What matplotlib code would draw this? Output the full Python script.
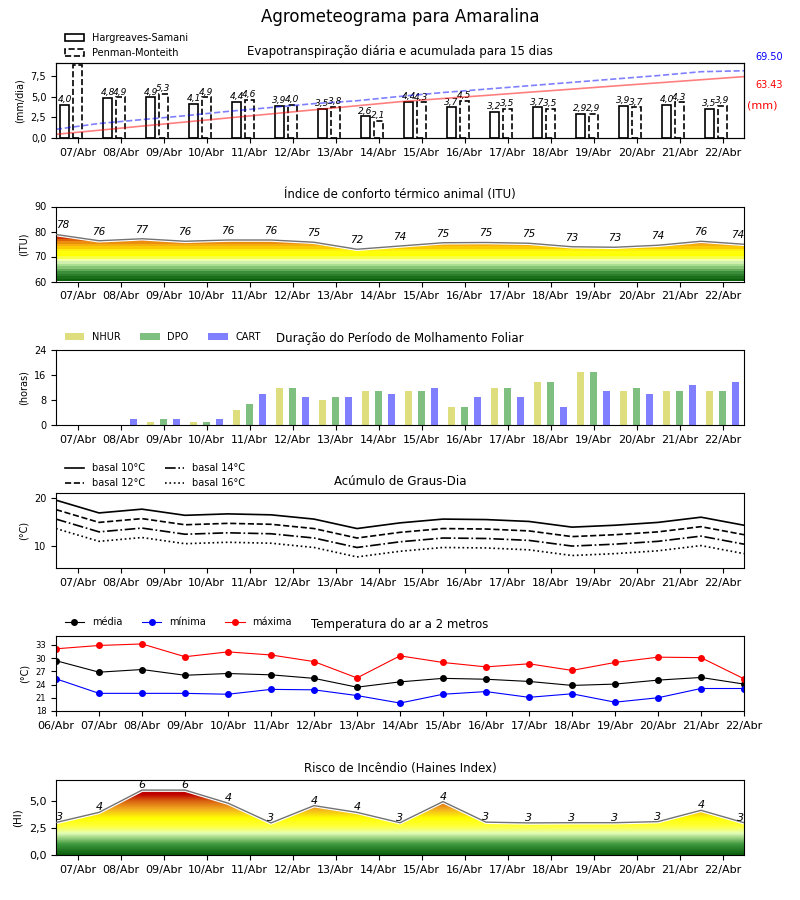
import matplotlib
matplotlib.use('Agg')
import matplotlib.pyplot as plt
import numpy as np
from matplotlib.colors import LinearSegmentedColormap
from matplotlib.ticker import FuncFormatter

dias = ['07/Abr', '08/Abr', '09/Abr', '10/Abr', '11/Abr', '12/Abr', '13/Abr', '14/Abr',
        '15/Abr', '16/Abr', '17/Abr', '18/Abr', '19/Abr', '20/Abr', '21/Abr', '22/Abr']
dias_temp = ['06/Abr'] + dias

# evapotranspiracao diaria (mm/dia) e acumulada (mm)
et_hs = [4.0, 4.8, 4.9, 4.1, 4.4, 3.9, 3.5, 2.6, 4.4, 3.7, 3.2, 3.7, 2.9, 3.9, 4.0, 3.5]
et_pm = [8.8, 4.9, 5.3, 4.9, 4.6, 4.0, 3.8, 2.1, 4.3, 4.5, 3.5, 3.5, 2.9, 3.7, 4.3, 3.9]
acum_hs = [3.8, 8.0, 12.3, 16.5, 20.7, 24.9, 29.1, 33.3, 37.5, 40.8, 44.0, 47.3, 50.5, 53.8, 57.0, 60.2, 63.43]
acum_pm = [9.0, 15.0, 19.0, 23.0, 27.5, 31.5, 35.5, 38.5, 43.0, 47.0, 50.5, 54.0, 57.5, 61.0, 64.5, 68.5, 69.5]

# indice de conforto termico (ITU)
itu = [78.8, 76.3, 77.1, 76.1, 76.6, 76.6, 75.7, 72.9, 74.2, 75.5, 75.6, 75.3, 73.9, 73.7, 74.5, 76.1, 74.9]
itu_rot = [78, 76, 77, 76, 76, 76, 75, 72, 74, 75, 75, 75, 73, 73, 74, 76, 74]

# molhamento foliar (horas)
nhur = [0, 0, 1, 1, 5, 12, 8, 11, 11, 6, 12, 14, 17, 11, 11, 11]
dpo = [0, 0, 2, 1, 7, 12, 9, 11, 11, 6, 12, 14, 17, 12, 11, 11]
cart = [0, 2, 2, 2, 10, 9, 9, 10, 12, 9, 9, 6, 11, 10, 13, 14]

# graus-dia (°C)
gd10 = [19.6, 16.9, 17.7, 16.4, 16.7, 16.5, 15.6, 13.6, 14.8, 15.6, 15.5, 15.1, 13.9, 14.3, 14.9, 16.0, 14.3]
gd12 = [17.6, 14.9, 15.7, 14.4, 14.7, 14.5, 13.6, 11.6, 12.8, 13.6, 13.5, 13.1, 11.9, 12.3, 12.9, 14.0, 12.3]
gd14 = [15.6, 12.9, 13.7, 12.4, 12.7, 12.5, 11.6, 9.6, 10.8, 11.6, 11.5, 11.1, 9.9, 10.3, 10.9, 12.0, 10.3]
gd16 = [13.6, 10.9, 11.7, 10.4, 10.7, 10.5, 9.6, 7.6, 8.8, 9.6, 9.5, 9.1, 7.9, 8.3, 8.9, 10.0, 8.3]

# temperatura do ar (°C)
tmed = [29.4, 26.8, 27.4, 26.1, 26.5, 26.2, 25.4, 23.4, 24.6, 25.4, 25.2, 24.7, 23.8, 24.1, 25.0, 25.6, 24.1]
tmin = [25.3, 22.0, 22.0, 22.0, 21.8, 22.9, 22.8, 21.5, 19.8, 21.8, 22.4, 21.1, 21.9, 20.0, 21.0, 23.1, 23.1]
tmax = [32.1, 32.85, 33.2, 30.3, 31.4, 30.7, 29.2, 25.5, 30.5, 29.0, 28.0, 28.7, 27.2, 29.0, 30.2, 30.1, 25.3]

# risco de incendio (Haines)
haines = [3.02, 3.95, 6.0, 6.0, 4.8, 2.98, 4.57, 3.95, 3.0, 4.94, 3.05, 2.98, 3.0, 3.0, 3.1, 4.14, 3.0]
haines_rot = [3, 4, 6, 6, 4, 3, 4, 4, 3, 4, 3, 3, 3, 3, 3, 4, 3]

xb = np.arange(len(dias))               # centro de cada dia
xl = np.arange(len(dias_temp)) - 0.5    # limites entre dias
virg = FuncFormatter(lambda v, p: f'{v:.1f}'.replace('.', ','))


def eixo(top):
    # cria um painel na posicao (em pixels a partir do topo)
    ax = fig.add_axes([56/800, 1 - (top + 75)/900, 688/800, 75/900])
    ax.set_xlim(-0.5, len(dias) - 0.5)
    ax.set_xticks(xb)
    ax.set_xticklabels(dias, fontsize=8)
    ax.tick_params(axis='y', labelsize=7)
    return ax


def gradiente(ax, x, y, y0, y1, stops, n, interp):
    # preenche a area sob a curva com um degrade vertical
    cmap = LinearSegmentedColormap.from_list('g', [((v - y0)/(y1 - y0), c) for v, c in stops])
    niveis = np.linspace(0, 1, n).reshape(-1, 1)
    im = ax.imshow(niveis, cmap=cmap, origin='lower', aspect='auto', interpolation=interp,
                   extent=[x[0], x[-1], y0, y1], zorder=1)
    poly = ax.fill_between(x, y, y0, facecolor='none', edgecolor='none')
    im.set_clip_path(poly.get_paths()[0], transform=ax.transData)
    ax.plot(x, y, color='white', lw=2.6, zorder=2)
    ax.plot(x, y, color='0.45', lw=1.0, zorder=3)


fig = plt.figure(figsize=(8, 9), dpi=100)
fig.text(0.5, 1 - 17/900, 'Agrometeograma para Amaralina', ha='center', va='center', fontsize=12)

# ---- 1: evapotranspiracao ----
ax1 = eixo(63)
ax1.bar(xb - 0.3, et_hs, 0.2, facecolor='white', edgecolor='black', lw=1.2, label='Hargreaves-Samani')
ax1.bar(xb, et_pm, 0.2, facecolor='white', edgecolor='black', lw=1.2, ls='--', label='Penman-Monteith')
ymax1 = max(et_pm) * 1.03
for i in range(len(dias)):
    for xx, v in ((xb[i] - 0.3, et_hs[i]), (xb[i], et_pm[i])):
        if v < ymax1 * 0.9:
            ax1.text(xx, v + 0.1, f'{v:.1f}'.replace('.', ','), ha='center', va='bottom',
                     fontsize=6.5, style='italic')
ax1.set_ylim(0, ymax1)
ax1.set_yticks([0, 2.5, 5, 7.5])
ax1.yaxis.set_major_formatter(virg)
ax1.set_ylabel('(mm/dia)', fontsize=7)
ax1.set_title('Evapotranspiração diária e acumulada para 15 dias', fontsize=8.5)
ax1.legend(loc='lower left', bbox_to_anchor=(0, 0.95), frameon=False, fontsize=7)
tw = ax1.twinx()
tw.plot(xl, acum_hs, color='red', alpha=0.5, lw=1.2)
tw.plot(xl, acum_pm, color='blue', alpha=0.5, lw=1.2, ls='--')
tw.set_ylim(0, 77.5)
tw.set_yticks([])
ax1.text(1.016, 1.08, f'{acum_pm[-1]:.2f}', color='blue', fontsize=7, transform=ax1.transAxes, va='center')
ax1.text(1.016, 0.707, f'{acum_hs[-1]:.2f}', color='red', fontsize=7, transform=ax1.transAxes, va='center')
ax1.text(1.004, 0.44, '(mm)', color='red', fontsize=8, transform=ax1.transAxes, va='center')

# ---- 2: ITU ----
ax2 = eixo(206.5)
itu_cores = [(60, '#0c600c'), (63, '#3a8d3a'), (66, '#a6dc8e'), (68, '#f0ffc4'), (70, '#ffff00'),
             (72, '#ffff10'), (73, '#ffd400'), (75, '#f2a414'), (76.5, '#e06808'), (78, '#cc2200'),
             (80, '#c00000'), (90, '#c00000')]
gradiente(ax2, xl, itu, 60, 90, itu_cores, 30, 'nearest')
for i, r in enumerate(itu_rot):
    ha = 'left' if i == 0 else ('right' if i == len(itu_rot) - 1 else 'center')
    ax2.annotate(str(r), (xl[i], itu[i]), xytext=(0, 3), textcoords='offset points',
                 ha=ha, va='bottom', fontsize=7.5, style='italic')
ax2.set_ylim(60, 90)
ax2.set_yticks([60, 70, 80, 90])
ax2.set_ylabel('(ITU)', fontsize=7)
ax2.set_title('Índice de conforto térmico animal (ITU)', fontsize=8.5)

# ---- 3: molhamento foliar ----
ax3 = eixo(350.5)
ax3.bar(xb - 0.3, nhur, 0.16, color='y', alpha=0.5, label='NHUR')
ax3.bar(xb, dpo, 0.16, color='g', alpha=0.5, label='DPO')
ax3.bar(xb + 0.3, cart, 0.16, color='b', alpha=0.5, label='CART')
ax3.set_ylim(0, 24)
ax3.set_yticks([0, 8, 16, 24])
ax3.set_ylabel('(horas)', fontsize=7)
ax3.set_title('Duração do Período de Molhamento Foliar', fontsize=8.5)
ax3.legend(loc='lower left', bbox_to_anchor=(0, 1.0), frameon=False, fontsize=7, ncol=3)

# ---- 4: graus-dia ----
ax4 = eixo(493.3)
ax4.plot(xl, gd10, color='black', lw=1.2, ls='-', label='basal 10°C')
ax4.plot(xl, gd12, color='black', lw=1.2, ls='--', label='basal 12°C')
ax4.plot(xl, gd14, color='black', lw=1.2, ls='-.', label='basal 14°C')
ax4.plot(xl, gd16, color='black', lw=1.2, ls=':', label='basal 16°C')
ax4.set_ylim(5.2, 21.05)
ax4.set_yticks([10, 20])
ax4.set_ylabel('(°C)', fontsize=7)
ax4.set_title('Acúmulo de Graus-Dia', fontsize=8.5)
ax4.legend(loc='lower left', bbox_to_anchor=(0, 0.95), frameon=False, fontsize=7, ncol=2)

# ---- 5: temperatura ----
ax5 = eixo(636)
ax5.plot(xl, tmed, color='black', marker='o', ms=4, lw=0.8, label='média')
ax5.plot(xl, tmin, color='blue', marker='o', ms=4, lw=0.8, label='mínima')
ax5.plot(xl, tmax, color='red', marker='o', ms=4, lw=0.8, label='máxima')
ax5.set_xticks(xl)
ax5.set_xticklabels(dias_temp, fontsize=8)
ax5.set_ylim(18, 35)
ax5.set_yticks([18, 21, 24, 27, 30, 33])
ax5.tick_params(axis='y', labelsize=6)
ax5.set_ylabel('(°C)', fontsize=7)
ax5.set_title('Temperatura do ar a 2 metros', fontsize=8.5)
ax5.legend(loc='lower left', bbox_to_anchor=(0, 1.0), frameon=False, fontsize=7, ncol=3)

# ---- 6: Haines ----
ax6 = eixo(780.3)
hi_cores = [(0, '#0b5e0b'), (1, '#3f9a3f'), (2, '#e4ffb8'), (2.6, '#ffff40'), (3.4, '#ffff00'),
            (4.2, '#f4b020'), (5.0, '#d86010'), (5.6, '#c00000'), (6.9, '#b80000')]
gradiente(ax6, xl, haines, 0, 6.9, hi_cores, 300, 'bilinear')
for i, r in enumerate(haines_rot):
    ha = 'left' if i == 0 else ('right' if i == len(haines_rot) - 1 else 'center')
    ax6.annotate(str(r), (xl[i], haines[i]), xytext=(0, 0), textcoords='offset points',
                 ha=ha, va='bottom', fontsize=8, style='italic')
ax6.set_ylim(0, 6.9)
ax6.set_yticks([0, 2.5, 5.0])
ax6.yaxis.set_major_formatter(virg)
ax6.tick_params(axis='y', labelsize=8)
ax6.set_ylabel('(HI)', fontsize=7.5)
ax6.set_title('Risco de Incêndio (Haines Index)', fontsize=8.5)

fig.savefig('out.png', dpi=100)
